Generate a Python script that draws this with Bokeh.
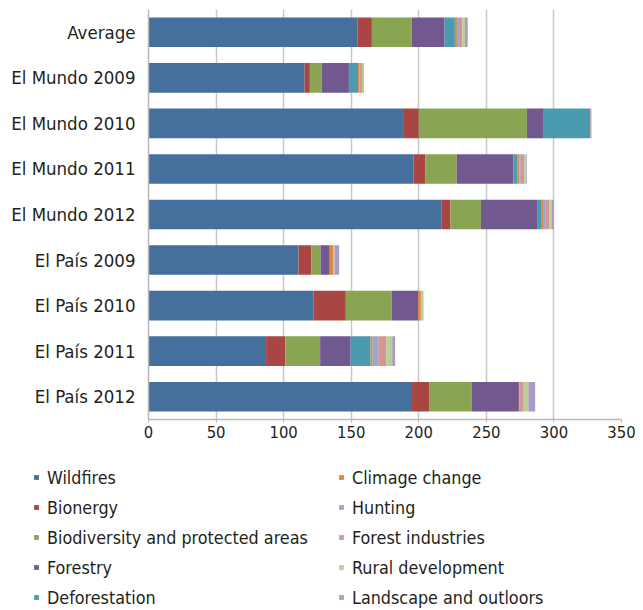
from bokeh.plotting import figure
from bokeh.layouts import column
from bokeh.models import FactorRange, Range1d, FixedTicker, Legend, LegendItem, ColumnDataSource, Plot
from bokeh.embed import file_html
from bokeh.resources import INLINE

FONT = "DejaVu Sans Condensed"

categories = ["Average", "El Mundo 2009", "El Mundo 2010", "El Mundo 2011", "El Mundo 2012",
              "El País 2009", "El País 2010", "El País 2011", "El País 2012"]

series_names = ["Wildfires", "Bionergy", "Biodiversity and protected areas", "Forestry",
                "Deforestation", "Climage change", "Hunting", "Forest industries",
                "Rural development", "Landscape and outloors"]

wildfires     = [154.5, 115.5, 189.0, 196.0, 217.0, 111.0, 122.0, 87.0, 195.0]
bionergy      = [10.8, 3.9, 11.0, 9.0, 6.5, 9.4, 24.0, 14.2, 13.0]
biodiversity  = [29.5, 8.8, 80.0, 23.0, 22.5, 6.9, 34.0, 25.8, 31.3]
forestry      = [24.3, 20.1, 12.5, 42.0, 41.5, 6.8, 19.5, 22.6, 34.8]
deforestation = [7.6, 6.7, 34.5, 3.0, 3.5, 0.0, 0.0, 14.7, 0.0]
climate       = [1.5, 1.0, 0.0, 1.5, 1.5, 2.5, 2.0, 1.5, 0.5]
hunting       = [1.5, 0.5, 0.0, 1.0, 1.5, 0.0, 0.0, 4.2, 0.0]
forest_ind    = [2.5, 1.5, 0.5, 2.5, 2.5, 0.5, 0.0, 5.9, 3.0]
rural         = [2.0, 1.0, 0.5, 1.5, 2.0, 0.5, 2.0, 4.4, 3.5]
landscape     = [2.0, 0.5, 0.0, 0.5, 1.5, 3.5, 0.0, 2.2, 5.0]

x_ticks = [0, 50, 100, 150, 200, 250, 300, 350]

colors = ["#45709e", "#a94643", "#8aa552", "#71588f", "#4a9ab0",
          "#dd863d", "#92abd1", "#d69594", "#b8d094", "#aa9cc4"]

values = [wildfires, bionergy, biodiversity, forestry, deforestation,
          climate, hunting, forest_ind, rural, landscape]
keys = ["s%d" % i for i in range(len(series_names))]
data = {"cat": categories}
for k, v in zip(keys, values):
    data[k] = v
source = ColumnDataSource(data)

TXT = "#231f20"

y_range = FactorRange(factors=list(reversed(categories)))
x_range = Range1d(0, 350)

p = figure(width=643, height=450, output_backend="svg", toolbar_location=None,
           y_range=y_range, x_range=x_range,
           min_border_left=148, min_border_right=22, min_border_top=9, min_border_bottom=31)

p.hbar_stack(keys, y="cat", height=0.65, color=colors, source=source, line_color=None)

p.outline_line_color = None
p.ygrid.grid_line_color = None
p.xgrid.grid_line_color = "#c8c8c8"
p.xgrid.grid_line_width = 1.5

p.xaxis.ticker = FixedTicker(ticks=x_ticks)
p.xaxis.axis_line_color = "#b8b8b8"
p.xaxis.axis_line_width = 1.5
p.xaxis.major_tick_line_color = "#b8b8b8"
p.xaxis.major_tick_out = 3
p.xaxis.major_tick_in = 0
p.xaxis.minor_tick_line_color = None
p.xaxis.major_label_standoff = 3
p.xaxis.major_label_text_font = FONT
p.xaxis.major_label_text_font_size = "16.5px"
p.xaxis.major_label_text_color = TXT

p.yaxis.axis_line_color = "#b8b8b8"
p.yaxis.axis_line_width = 1.5
p.yaxis.major_tick_line_color = None
p.yaxis.minor_tick_line_color = None
p.yaxis.major_label_standoff = 7
p.yaxis.major_label_text_font = FONT
p.yaxis.major_label_text_font_size = "18.5px"
p.yaxis.major_label_text_color = TXT

# legend panel (separate figure under the chart)
lg = figure(width=643, height=160, output_backend="svg", toolbar_location=None,
            x_range=x_range, y_range=y_range,
            x_axis_location=None, y_axis_location=None,
            min_border_left=0, min_border_right=0, min_border_top=0, min_border_bottom=0)
lg.outline_line_color = None
lg.grid.grid_line_color = None

if "frame_align" in Plot.properties():
    p.frame_align = False
    lg.frame_align = False

# square swatches for the legend only (drawn with size 0 in the plot area)
swatches = [lg.scatter(x=k, y="cat", source=source, marker="square", size=0,
                       fill_color=c, line_color=None)
            for k, c in zip(keys, colors)]

def make_legend(idx, loc):
    items = [LegendItem(label=series_names[i], renderers=[swatches[i]]) for i in idx]
    return Legend(items=items, location=loc, orientation="vertical",
                  glyph_width=12, glyph_height=22, label_standoff=5,
                  label_height=22, spacing=8, padding=0, margin=0,
                  border_line_color=None, background_fill_alpha=0,
                  label_text_font=FONT, label_text_font_size="17.8px",
                  label_text_color=TXT)

lg.add_layout(make_legend([0, 1, 2, 3, 4], (30, 2)))
lg.add_layout(make_legend([5, 6, 7, 8, 9], (335, 2)))

layout = column(p, lg, spacing=0)

open("out.html", "w").write(file_html(layout, INLINE))
